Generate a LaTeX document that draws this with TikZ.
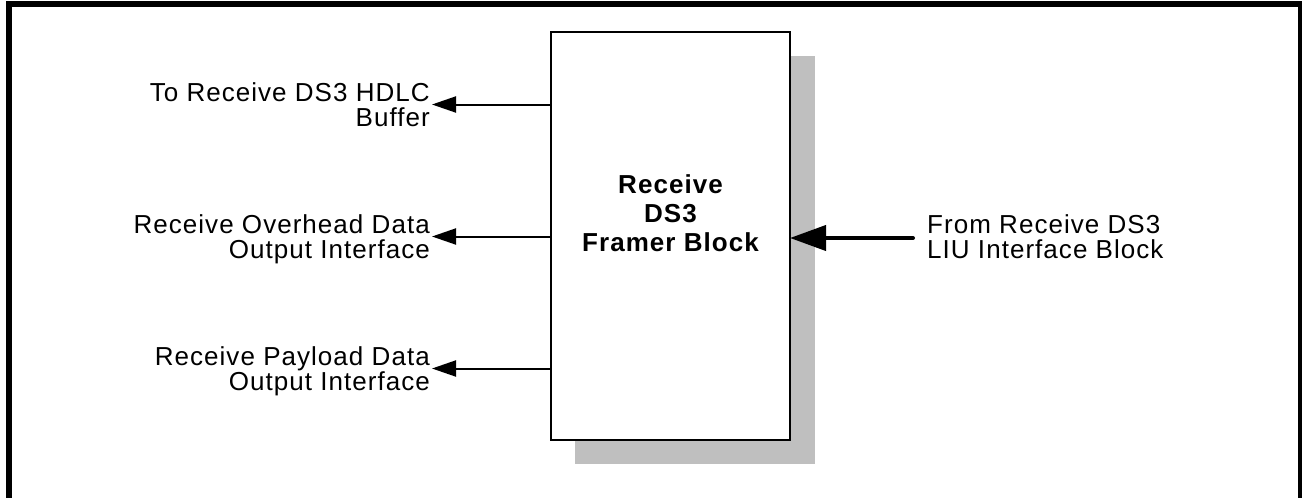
\documentclass[tikz,border=0pt]{standalone}
\usepackage{fontspec}
\setmainfont{Liberation Sans}[LetterSpace=4]
\usetikzlibrary{arrows.meta}
\definecolor{shadowgray}{RGB}{191,191,191}
\begin{document}
\begin{tikzpicture}[x=1pt,y=-1pt,
  lbl/.style={font=\fontsize{26}{25.5}\selectfont, inner sep=2pt, text depth=0pt},
  ttl/.style={font=\fontsize{26}{29}\selectfont\bfseries, align=center, inner sep=0pt},
  thinarr/.style={line width=2pt, -{Triangle[length=24pt,width=16pt]}},
  thickarr/.style={line width=4pt, line cap=round, -{Triangle[length=36pt,width=25pt]}},
  blockbox/.style={draw, line width=1.7pt, fill=white, inner sep=0pt, outer sep=0pt}
]
\useasboundingbox (0,0) rectangle (1302,498);
\draw[line width=6pt] (9,4) rectangle (1301,530);
\fill[shadowgray] (575,56) rectangle (815,464);
\node[blockbox, minimum width=239pt, minimum height=408pt, anchor=north west] (box) at (551,32) {};
\node[ttl] (title) at (670.5,213) {Receive\\DS3\\Framer Block};
\node[lbl, anchor=east, align=right] (l1) at (432,104.5) {To Receive DS3 HDLC\\Buffer};
\node[lbl, anchor=east, align=right] (l2) at (432,236.5) {Receive Overhead Data\\Output Interface};
\node[lbl, anchor=east, align=right] (l3) at (432,368.5) {Receive Payload Data\\Output Interface};
\node[lbl, anchor=west, align=left] (r1) at (925,236.5) {From Receive DS3\\LIU Interface Block};
\draw[thinarr] (box.west |- l1.east) -- (l1.east);
\draw[thinarr] (box.west |- l2.east) -- (l2.east);
\draw[thinarr] (box.west |- l3.east) -- (l3.east);
\coordinate (rs) at ([xshift=-12pt,yshift=-1.5pt]r1.west);
\draw[thickarr] (rs) -- (box.east |- rs);
\end{tikzpicture}
\end{document}
